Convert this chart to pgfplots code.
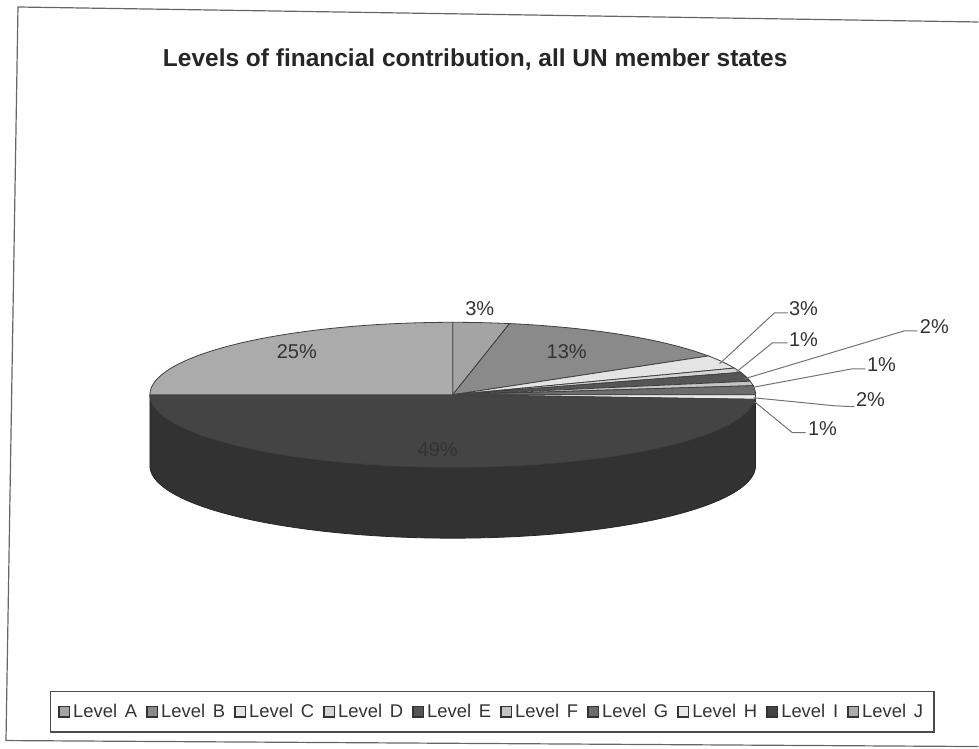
\documentclass[border=0pt]{standalone}
\usepackage{pgfplots}
\pgfplotsset{compat=1.18}
\usepackage{fontspec}
\setmainfont{Liberation Sans}
\definecolor{cA}{HTML}{A4A4A4}
\definecolor{cB}{HTML}{8A8A8A}
\definecolor{cC}{HTML}{E4E4E4}
\definecolor{cD}{HTML}{D4D4D4}
\definecolor{cE}{HTML}{555555}
\definecolor{cF}{HTML}{C4C4C4}
\definecolor{cG}{HTML}{6C6C6C}
\definecolor{cH}{HTML}{E8E8E8}
\definecolor{cI}{HTML}{444444}
\definecolor{cJ}{HTML}{ABABAB}
\definecolor{side}{HTML}{323232}
\definecolor{txt}{HTML}{333333}
% slice: start percent, end percent, colour (clockwise from 12 o'clock)
\newcommand{\slice}[3]{%
  \addplot[fill=#3, draw=black!75, line width=0.4pt, domain={90-3.6*#2}:{90-3.6*#1}, samples=60]
    ({453+303*cos(x)},{395-72.5*sin(x)}) -- (axis cs:453,395) -- cycle;
}
\newcommand{\lv}[1]{Level\hspace{3.9pt}#1}
\begin{document}
\begin{tikzpicture}
\begin{axis}[
  scale only axis, width=489.5pt, height=374.5pt,
  xmin=0, xmax=979, ymin=0, ymax=749, y dir=reverse,
  hide axis, clip=false,
  legend columns=10,
  legend image code/.code={\draw[#1, draw=black!80, line width=0.8pt] (0pt,-2.6pt) rectangle (5.2pt,2.6pt);},
  legend style={at={(0.503,0.049)}, anchor=center, draw=black!70, line width=0.6pt,
    font=\fontsize{9.2}{11}\selectfont, text=txt, inner xsep=4pt, inner ysep=4pt,
    /tikz/every even column/.append style={column sep=3pt},
    nodes={inner xsep=1.5pt}},
]
% picture extent
\path (axis cs:0,0) rectangle (axis cs:979,749);
% outer frame of the scanned chart
\draw[black!60, line width=0.6pt] (axis cs:979,22) -- (axis cs:18,7) -- (axis cs:6,741) -- (axis cs:979,747);
% side of the pie (front half)
\addplot[fill=side, draw=black!85, line width=0.4pt, domain=-180:0, samples=90, forget plot]
  ({453+303*cos(x)},{466-72.5*sin(x)}) -- (axis cs:756,395) -- (axis cs:150,395) -- cycle;
% top faces
\slice{0}{3}{cA}\addlegendentry{\lv{A}}
\slice{3}{16}{cB}\addlegendentry{\lv{B}}
\slice{16}{19}{cC}\addlegendentry{\lv{C}}
\slice{19}{20}{cD}\addlegendentry{\lv{D}}
\slice{20}{22}{cE}\addlegendentry{\lv{E}}
\slice{22}{23}{cF}\addlegendentry{\lv{F}}
\slice{23}{25}{cG}\addlegendentry{\lv{G}}
\slice{25}{26}{cH}\addlegendentry{\lv{H}}
\slice{26}{75}{cI}\addlegendentry{\lv{I}}
\slice{75}{100}{cJ}\addlegendentry{\lv{J}}
% title
\node[font=\fontsize{12.25}{14}\selectfont\bfseries, text=black!85] at (axis cs:475.5,60) {Levels of financial contribution, all UN member states};
% labels inside
\begin{scope}[every node/.style={font=\fontsize{10}{12}\selectfont, text=txt}]
\node at (axis cs:480,309) {3\%};
\node at (axis cs:567,352) {13\%};
\node at (axis cs:297,352) {25\%};
\node at (axis cs:438,450) {49\%};
\node at (axis cs:804,309) {3\%};
\node at (axis cs:804,340) {1\%};
\node at (axis cs:935,327) {2\%};
\node at (axis cs:882,365) {1\%};
\node at (axis cs:871,400) {2\%};
\node at (axis cs:823,429) {1\%};
\end{scope}
% leader lines
\begin{scope}[black!55, line width=0.5pt]
\draw (axis cs:720,364) -- (axis cs:775,313) -- (axis cs:788,313);
\draw (axis cs:737,372) -- (axis cs:773,343) -- (axis cs:788,343);
\draw (axis cs:745,379) -- (axis cs:905,331) -- (axis cs:918,331);
\draw (axis cs:751,388) -- (axis cs:853,369) -- (axis cs:866,369);
\draw (axis cs:754,398) -- (axis cs:835,406) -- (axis cs:855,407);
\draw (axis cs:755,402) -- (axis cs:793,433) -- (axis cs:806,433);
\end{scope}
\end{axis}
\end{tikzpicture}
\end{document}
